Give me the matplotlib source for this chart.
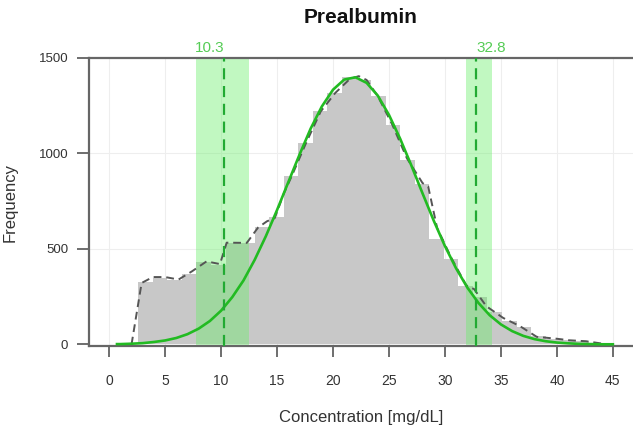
import numpy as np
import matplotlib
matplotlib.use("Agg")
import matplotlib.pyplot as plt

plt.rcParams['font.family'] = ['Liberation Sans', 'DejaVu Sans']

# Histogram bins (left edges) and counts
bin_edges = [2.6, 3.9, 5.2, 6.5, 7.8, 9.1, 10.4, 11.7, 13.0, 14.3, 15.6, 16.9,
             18.2, 19.5, 20.8, 22.1, 23.4, 24.7, 26.0, 27.3, 28.6, 29.9, 31.2,
             32.5, 33.8, 35.1, 36.4, 37.7, 39.0, 40.3, 41.6, 42.9, 44.2, 45.5]
counts = [325, 350, 335, 370, 430, 415, 530, 530, 615, 665, 880, 1056,
          1220, 1317, 1400, 1385, 1300, 1150, 965, 840, 550, 445, 305,
          250, 170, 125, 90, 45, 30, 22, 16, 8, 3]

# Dashed empirical line
dash_x = [2.0, 2.9, 3.9, 5.0, 6.2, 7.4, 8.7, 9.9, 10.5, 12.3, 13.3, 14.1, 14.8,
          15.6, 16.3, 17.6, 18.9, 20.2, 21.5, 22.3, 23.0, 24.0, 25.3, 26.6,
          28.0, 28.5, 29.3, 30.6, 31.9, 32.6, 33.7, 35.2, 36.7, 38.2, 40.0,
          41.1, 42.6, 44.0]
dash_y = [0, 322, 353, 353, 340, 383, 435, 421, 533, 532, 612, 645, 662,
          790, 880, 1056, 1220, 1317, 1390, 1405, 1385, 1300, 1150, 975,
          845, 828, 610, 450, 310, 290, 200, 139, 96, 40, 30, 22, 17, 5]

# Green fitted curve
fit_x = [0.7, 1, 2, 3, 4, 5, 6, 7, 8, 9, 10, 11, 12, 13, 14, 15, 16, 17, 18,
         19, 20, 21, 22, 23, 24, 25, 26, 27, 28, 29, 30, 31, 32, 33, 34, 35,
         36, 37, 38, 39, 40, 41, 42, 43, 44, 45]
fit_y = [2, 2, 4, 7, 13, 21, 34, 54, 83, 123, 177, 248, 335, 443, 567, 704,
         849, 993, 1130, 1246, 1334, 1387, 1399, 1370, 1303, 1202, 1077, 937,
         791, 648, 515, 398, 298, 217, 153, 105, 70, 45, 28, 17, 10, 6, 3, 2,
         1, 1]

# Reference limits
ref_lines = [10.3, 32.8]
ref_bands = [(7.8, 12.5), (31.9, 34.2)]
ref_labels = ["10.3", "32.8"]

x_ticks = [0, 5, 10, 15, 20, 25, 30, 35, 40, 45]
y_ticks = [0, 500, 1000, 1500]

W, H = 633, 432
fig = plt.figure(figsize=(W / 100, H / 100), dpi=100)
ax = fig.add_axes([89 / W, 1 - 346 / H, (W - 89) / W, (346 - 58) / H])

ax.set_xlim(-1.8, 46.8)
ax.set_ylim(-8, 1500)

# grid
for xv in x_ticks:
    ax.axvline(xv, color='#eeeeee', lw=0.8, zorder=0)
for yv in y_ticks[1:3]:
    ax.axhline(yv, color='#eeeeee', lw=0.8, zorder=0)

# histogram
widths = np.diff(bin_edges)
ax.bar(bin_edges[:-1], counts, width=widths, align='edge', color='#c8c8c8',
       edgecolor='none', linewidth=0, zorder=1)

# bands
green_band = '#66ee66'
for (a, b) in ref_bands:
    ax.axvspan(a, b, color=green_band, alpha=0.4, lw=0, zorder=2)

# dashed empirical line
ax.plot(dash_x, dash_y, color='#555555', lw=1.4, ls=(0, (4, 2.5)), zorder=3)

# fitted curve
ax.plot(fit_x, fit_y, color='#22bb22', lw=1.9, zorder=4)

# reference dashed lines
for xv in ref_lines:
    ax.axvline(xv, color='#22aa33', lw=1.6, ls=(0, (5, 3)), zorder=5)

# labels above
ax.text(ref_lines[0], 1515, ref_labels[0], color='#55cc55', fontsize=11,
        ha='right', va='bottom')
ax.text(ref_lines[1], 1515, ref_labels[1], color='#55cc55', fontsize=11,
        ha='left', va='bottom')

ax.set_xticks(x_ticks)
ax.set_yticks(y_ticks)
ax.set_xticklabels([str(v) for v in x_ticks])
ax.set_yticklabels([str(v) for v in y_ticks])
ax.tick_params(axis='x', direction='out', length=8, width=1.2, color='#555555',
               labelsize=10, labelcolor='#333333', pad=12)
ax.tick_params(axis='y', direction='out', length=9, width=1.2, color='#555555',
               labelsize=9.5, labelcolor='#333333', pad=6)

for s in ['left', 'top', 'bottom']:
    ax.spines[s].set_color('#666666')
    ax.spines[s].set_linewidth(1.6)
ax.spines['right'].set_visible(False)

ax.set_xlabel('Concentration [mg/dL]', fontsize=12, color='#333333', labelpad=16)
ax.set_ylabel('Frequency', fontsize=12, color='#333333')
ax.yaxis.set_label_coords((18 - 89) / 544, 0.5)

fig.text(361 / W, 1 - 23 / H, 'Prealbumin', fontsize=15, fontweight='bold',
         ha='center', va='baseline', color='#111111')

fig.savefig('out.png', dpi=100)
